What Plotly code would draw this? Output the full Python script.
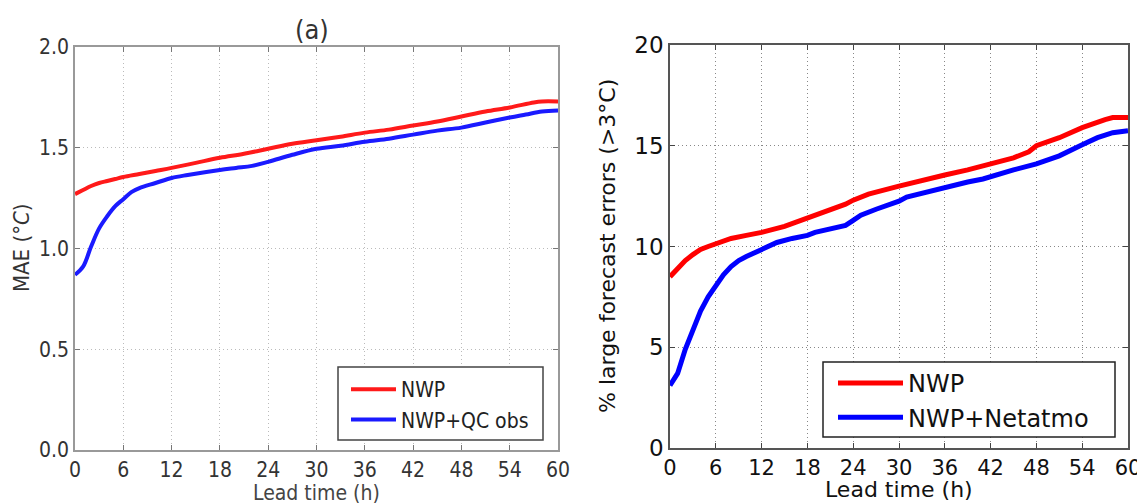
import plotly.graph_objects as go

# Panel (a): MAE
lead_a = [0, 1, 2, 3, 4, 5, 6, 8, 10, 12, 15, 18, 21, 24, 27, 30, 33, 36, 39, 42, 45, 48, 51, 54, 57, 58, 60]
nwp_a = [1.27, 1.29, 1.31, 1.325, 1.335, 1.345, 1.355, 1.37, 1.385, 1.40, 1.425, 1.45, 1.47, 1.495, 1.52, 1.537, 1.555, 1.575, 1.59, 1.61, 1.63, 1.655, 1.68, 1.70, 1.725, 1.73, 1.73]
lead_a2 = [0, 1, 2, 3, 4, 5, 6, 7, 8, 10, 12, 14, 18, 20, 22, 24, 27, 30, 33, 36, 39, 42, 45, 48, 51, 54, 56, 58, 60]
qc_a = [0.87, 0.91, 1.01, 1.10, 1.16, 1.21, 1.245, 1.28, 1.30, 1.325, 1.35, 1.365, 1.39, 1.40, 1.41, 1.43, 1.465, 1.495, 1.51, 1.53, 1.545, 1.565, 1.585, 1.60, 1.625, 1.65, 1.665, 1.68, 1.685]

# Panel (b): % large forecast errors
lead_b = [0, 1, 2, 3, 4, 5, 6, 8, 10, 12, 15, 18, 21, 23, 24, 26, 30, 33, 36, 39, 42, 45, 47, 48, 51, 54, 57, 58, 60]
nwp_b = [8.5, 8.9, 9.3, 9.6, 9.85, 10.0, 10.15, 10.4, 10.55, 10.7, 11.0, 11.4, 11.8, 12.1, 12.3, 12.6, 13.0, 13.3, 13.55, 13.8, 14.1, 14.4, 14.7, 15.0, 15.4, 15.9, 16.3, 16.4, 16.4]
lead_b2 = [0, 1, 2, 3, 4, 5, 6, 7, 8, 9, 10, 12, 13, 14, 16, 18, 19, 21, 23, 24, 25, 27, 30, 31, 33, 35, 37, 39, 41, 43, 45, 48, 51, 54, 56, 58, 60]
net_b = [3.1, 3.7, 4.9, 5.9, 6.8, 7.5, 8.1, 8.6, 9.0, 9.3, 9.5, 9.85, 10.05, 10.2, 10.4, 10.55, 10.7, 10.85, 11.05, 11.3, 11.55, 11.85, 12.25, 12.45, 12.65, 12.8, 13.05, 13.2, 13.35, 13.6, 13.8, 14.1, 14.5, 15.05, 15.4, 15.65, 15.75]

x_ticks = [0, 6, 12, 18, 24, 30, 36, 42, 48, 54, 60]
ya_ticks = [0.0, 0.5, 1.0, 1.5, 2.0]
ya_labels = ["0.0", "0.5", "1.0", "1.5", "2.0"]
yb_ticks = [0, 5, 10, 15, 20]

# The page body has an 8px default margin, so the figure is drawn at (8, 8).
W, H, OFF = 1137, 496, 8


def px(x):
    return (x - OFF) / W


def py(y):
    return 1 - (y - OFF) / H


FONT_A = "DejaVu Sans Condensed, DejaVu Sans"
FONT_B = "DejaVu Sans"
fig = go.Figure()
fig.add_trace(go.Scatter(x=lead_a, y=nwp_a, mode="lines", name="NWP", legendgroup="a1",
                         line=dict(color="#ff1a1a", width=4, shape="spline"), xaxis="x", yaxis="y", legend="legend"))
fig.add_trace(go.Scatter(x=lead_a2, y=qc_a, mode="lines", name="NWP+QC obs", legendgroup="a2",
                         line=dict(color="#1a1aff", width=4, shape="spline"), xaxis="x", yaxis="y", legend="legend"))
fig.add_trace(go.Scatter(x=lead_b, y=nwp_b, mode="lines", name="NWP", legendgroup="b1",
                         line=dict(color="#ff0000", width=5), xaxis="x2", yaxis="y2", legend="legend2"))
fig.add_trace(go.Scatter(x=lead_b2, y=net_b, mode="lines", name="NWP+Netatmo", legendgroup="b2",
                         line=dict(color="#0000ff", width=5), xaxis="x2", yaxis="y2", legend="legend2"))

ax_common = dict(ticks="inside", ticklen=5, showline=True, mirror="ticks", showgrid=True,
                 griddash="1px,3px", gridwidth=1, zeroline=False, automargin=False)

fig.update_layout(
    width=W, height=H, margin=dict(l=0, r=0, t=0, b=0, autoexpand=False),
    paper_bgcolor="white", plot_bgcolor="white",
    font=dict(family=FONT_B, color="#222"),
    showlegend=True,
    xaxis=dict(domain=[px(75), px(558)], range=[0, 60], tickvals=x_ticks, anchor="y",
               tickfont=dict(family=FONT_A, size=21, color="#333"), linecolor="#999", linewidth=1.5,
               gridcolor="#bbb", tickcolor="#777", **ax_common),
    yaxis=dict(domain=[py(450), py(47)], range=[0, 2.0], tickvals=ya_ticks, ticktext=ya_labels, anchor="x",
               tickfont=dict(family=FONT_A, size=21, color="#333"), linecolor="#999", linewidth=1.5,
               gridcolor="#bbb", tickcolor="#777", **ax_common),
    xaxis2=dict(domain=[px(670), px(1128)], range=[0, 60], tickvals=x_ticks, anchor="y2",
                tickfont=dict(family=FONT_B, size=21, color="#111"), linecolor="#555", linewidth=1.5,
                gridcolor="#888", tickcolor="#444", **ax_common),
    yaxis2=dict(domain=[py(448), py(45)], range=[0, 20], tickvals=yb_ticks, anchor="x2",
                tickfont=dict(family=FONT_B, size=23, color="#111"), linecolor="#555", linewidth=1.5,
                gridcolor="#888", tickcolor="#444", **ax_common),
    legend=dict(x=px(346), y=py(369), xanchor="left", yanchor="top", bgcolor="rgba(0,0,0,0)",
                borderwidth=0, font=dict(family=FONT_A, size=21, color="#222"),
                itemwidth=45, traceorder="grouped", tracegroupgap=0),
    legend2=dict(x=px(833), y=py(361), xanchor="left", yanchor="top", bgcolor="rgba(0,0,0,0)",
                 borderwidth=0, font=dict(family=FONT_B, size=24, color="#111"),
                 itemwidth=65, traceorder="grouped", tracegroupgap=0),
    shapes=[
        dict(type="rect", xref="paper", yref="paper", x0=px(338), x1=px(543), y0=py(440), y1=py(367),
             line=dict(color="#444", width=1.5), fillcolor="white", layer="above"),
        dict(type="rect", xref="paper", yref="paper", x0=px(823), x1=px(1115), y0=py(437), y1=py(362),
             line=dict(color="#222", width=1.5), fillcolor="white", layer="above"),
    ],
    annotations=[
        dict(text="(a)", x=px(312), y=py(30), xref="paper", yref="paper", showarrow=False,
             xanchor="center", yanchor="middle", font=dict(family=FONT_A, size=27, color="#333")),
        dict(text="Lead time (h)", x=px(316), y=py(479), xref="paper", yref="paper", showarrow=False,
             xanchor="center", yanchor="top", font=dict(family=FONT_A, size=21, color="#444")),
        dict(text="MAE (<i>°C</i>)", x=px(21), y=py(248), xref="paper", yref="paper", showarrow=False,
             xanchor="center", yanchor="middle", textangle=-90,
             font=dict(family=FONT_A, size=22, color="#333")),
        dict(text="Lead time (h)", x=px(899), y=py(504), xref="paper", yref="paper", showarrow=False,
             xanchor="center", yanchor="bottom", font=dict(family=FONT_B, size=22, color="#111")),
        dict(text="% large forecast errors (>3°C)", x=px(607), y=py(246), xref="paper", yref="paper",
             showarrow=False, xanchor="center", yanchor="middle", textangle=-90,
             font=dict(family=FONT_B, size=22, color="#111")),
    ],
)

fig.write_html("out.html")
